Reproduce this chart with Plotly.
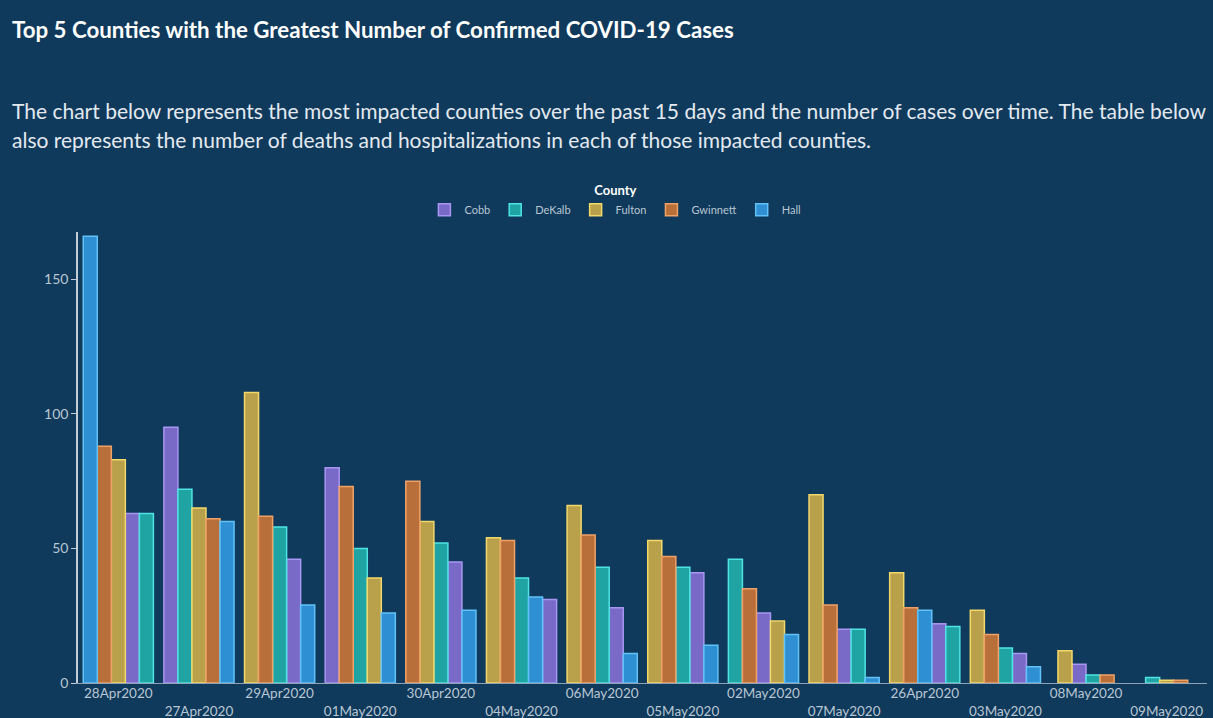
import plotly.graph_objects as go

dates = ["28Apr2020", "27Apr2020", "29Apr2020", "01May2020", "30Apr2020", "04May2020",
         "06May2020", "05May2020", "02May2020", "07May2020", "26Apr2020", "03May2020",
         "08May2020", "09May2020"]
counties = ["Cobb", "DeKalb", "Fulton", "Gwinnett", "Hall"]

cobb     = [63, 95, 46, 80, 45, 31, 28, 41, 26, 20, 22, 11, 7, None]
dekalb   = [63, 72, 58, 50, 52, 39, 43, 43, 46, 20, 21, 13, 3, 2]
fulton   = [83, 65, 108, 39, 60, 54, 66, 53, 23, 70, 41, 27, 12, 1]
gwinnett = [88, 61, 62, 73, 75, 53, 55, 47, 35, 29, 28, 18, 3, 1]
hall     = [166, 60, 29, 26, 27, 32, 11, 14, 18, 2, 27, 6, None, None]

series = {"Cobb": cobb, "DeKalb": dekalb, "Fulton": fulton, "Gwinnett": gwinnett, "Hall": hall}

fill = {"Cobb": "#7a6ac8", "DeKalb": "#1fa3a3", "Fulton": "#b9a04a",
        "Gwinnett": "#b86f3a", "Hall": "#2f8fd3"}
edge = {"Cobb": "#a896f2", "DeKalb": "#4fe3e3", "Fulton": "#f2d86a",
        "Gwinnett": "#f0a266", "Hall": "#62c2f8"}

BG = "#0f3a5c"
W = 0.174  # bar width in category units

# per-date ordering: bars sorted by value (desc), ties keep county order, centred
offsets = {c: [None] * len(dates) for c in counties}
for i in range(len(dates)):
    present = [(c, series[c][i]) for c in counties if series[c][i] is not None]
    ordered = sorted(present, key=lambda t: -t[1])
    n = len(ordered)
    for k, (c, v) in enumerate(ordered):
        offsets[c][i] = -n * W / 2 + k * W

fig = go.Figure()
for c in counties:
    fig.add_trace(go.Bar(
        name=c, x=dates, y=series[c],
        width=W, offset=[o if o is not None else 0 for o in offsets[c]],
        marker=dict(color=fill[c], line=dict(color=edge[c], width=1.5)),
    ))

ticktext = [d if i % 2 == 0 else "<br>" + d for i, d in enumerate(dates)]

title_txt = "<b>Top 5 Counties with the Greatest Number of Confirmed COVID-19 Cases</b>"
desc1 = "The chart below represents the most impacted counties over the past 15 days and the number of cases over time. The table below"
desc2 = "also represents the number of deaths and hospitalizations in each of those impacted counties."

fig.update_layout(
    width=1213, height=718,
    barmode="overlay",
    paper_bgcolor=BG, plot_bgcolor=BG,
    margin=dict(l=78, r=6, t=232, b=35, autoexpand=False),
    font=dict(family="Lato, sans-serif", color="#b9c6d3"),
    showlegend=True,
    legend=dict(
        orientation="h", x=0.476, xanchor="center", y=1.017, yanchor="bottom",
        title=dict(text="<b>County</b>", side="top center",
                   font=dict(size=13, color="#ffffff")),
        font=dict(size=11, color="#b9c6d3"),
        bgcolor="rgba(0,0,0,0)", itemwidth=30, tracegroupgap=0,
    ),
    annotations=[
        dict(text=title_txt, xref="paper", yref="paper", x=-0.0602, y=1.448,
             xanchor="left", yanchor="middle", showarrow=False,
             font=dict(size=22.3, color="#ffffff", family="Lato, sans-serif")),
        dict(text=desc1, xref="paper", yref="paper", x=-0.0602, y=1.2705,
             xanchor="left", yanchor="middle", showarrow=False,
             font=dict(size=21, color="#e3e9f0", family="Lato, sans-serif")),
        dict(text=desc2, xref="paper", yref="paper", x=-0.0602, y=1.204,
             xanchor="left", yanchor="middle", showarrow=False,
             font=dict(size=21, color="#e3e9f0", family="Lato, sans-serif")),
    ],
)

fig.update_xaxes(
    type="category", categoryorder="array", categoryarray=dates,
    tickmode="array", tickvals=dates, ticktext=ticktext, tickangle=0,
    showgrid=False, zeroline=False, showline=True, linecolor="#8fa3b6", linewidth=1,
    ticks="", tickfont=dict(size=13.5, color="#b9c6d3"), ticklabelstandoff=-2,
    automargin=False, range=[-0.5, len(dates) - 0.5],
)
fig.update_yaxes(
    range=[0, 167.6], tickvals=[0, 50, 100, 150], automargin=False,
    showgrid=False, zeroline=False, showline=True, linecolor="#c3cdd7", linewidth=1.5,
    ticks="outside", ticklen=5, tickcolor="#c3cdd7",
    tickfont=dict(size=14, color="#b9c6d3"),
)

fig.write_html(
    "out.html",
    config={"displayModeBar": False},
    post_script="document.body.style.margin='0';document.body.style.background='%s';" % BG,
)
